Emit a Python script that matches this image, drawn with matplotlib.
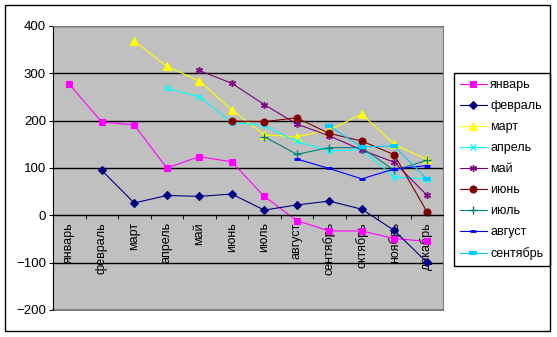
import numpy as np
import matplotlib
matplotlib.use('Agg')
import matplotlib.pyplot as plt
from matplotlib.patches import Rectangle

plt.rcParams['font.family'] = ['Liberation Sans', 'DejaVu Sans']

nan = np.nan

# categories (months)
months = ['январь', 'февраль', 'март', 'апрель', 'май', 'июнь',
          'июль', 'август', 'сентябрь', 'октябрь', 'ноябрь', 'декабрь']

# one series per starting month
jan = [277, 197, 191, 100, 124, 113, 40, -11, -33, -33, -49, -55]
feb = [nan, 95, 26, 42, 40, 45, 11, 22, 30, 13, -32, -99]
mar = [nan, nan, 368, 315, 284, 223, 170, 166, 180, 214, 150, 118]
apr = [nan, nan, nan, 268, 251, 196, 190, 156, 136, 139, 81, 77]
may = [nan, nan, nan, nan, 306, 279, 234, 193, 168, 138, 112, 43]
jun = [nan, nan, nan, nan, nan, 199, 198, 206, 173, 157, 128, 8]
jul = [nan, nan, nan, nan, nan, nan, 166, 129, 143, 143, 95, 116]
aug = [nan, nan, nan, nan, nan, nan, nan, 119, 99, 77, 98, 105]
sep = [nan, nan, nan, nan, nan, nan, nan, nan, 188, 145, 146, 77]

series_names = months[:9]
series_values = [jan, feb, mar, apr, may, jun, jul, aug, sep]

# Excel-like colours and markers
colors = ['#FF00FF', '#000080', '#FFFF00', '#00FFFF', '#800080',
          '#800000', '#008080', '#0000FF', '#00CCFF']
markers = ['s', 'D', '^', 'x', (6, 2, 0), 'o', '+', '_', '_']
msizes = [5, 4.5, 5.5, 4.5, 5, 5, 6, 4, 6]
mew = [0.8, 0.8, 0.8, 1.0, 1.0, 0.8, 1.0, 2.0, 3.0]

fig = plt.figure(figsize=(5.57, 3.37), dpi=100)
fig.patch.set_facecolor('white')

# outer chart frame
fig.patches.append(Rectangle((5/557, 1 - 331/337), 545/557, 326/337,
                             transform=fig.transFigure, fill=False,
                             edgecolor='black', linewidth=1))

ax = fig.add_axes([53/557, 1 - 310/337, 390/557, 284/337])
ax.set_facecolor('#C0C0C0')

x = np.arange(len(months))
for name, vals, c, m, ms, w in zip(series_names, series_values, colors,
                                     markers, msizes, mew):
    ax.plot(x, vals, color=c, marker=m, markersize=ms, markeredgewidth=w,
            markerfacecolor=c, markeredgecolor=c, linewidth=0.8, label=name)

ax.set_xlim(-0.5, len(months) - 0.5)
ax.set_ylim(-200, 400)
ax.set_yticks(np.arange(-200, 401, 100))
ax.yaxis.grid(True, color='black', linewidth=1)
ax.set_axisbelow(True)

# category axis sits at zero
ax.spines['bottom'].set_position(('data', 0))
ax.spines['bottom'].set_color('black')
ax.spines['left'].set_color('black')
ax.spines['right'].set_color('#808080')
ax.spines['top'].set_color('#808080')
ax.axhline(-200, color='#808080', linewidth=1.5, clip_on=False)

ax.set_xticks(x)
ax.set_xticklabels(months, rotation=90, va='top', fontsize=9)
ax.set_xticks(np.arange(-0.5, len(months), 1), minor=True)
ax.tick_params(axis='x', which='major', length=0, pad=5)
ax.tick_params(axis='x', which='minor', length=3, direction='out',
               color='black')
ax.tick_params(axis='y', length=3, pad=2, labelsize=9.5)

leg = ax.legend(loc='upper left', bbox_to_anchor=(454/557, 1 - 73/337),
                bbox_transform=fig.transFigure, fontsize=9,
                frameon=True, fancybox=False, edgecolor='black',
                framealpha=1, handlelength=2.1, handletextpad=0.3,
                labelspacing=0.72, borderpad=0.5, borderaxespad=0)
leg.get_frame().set_linewidth(1)

fig.savefig('out.png', dpi=100)
